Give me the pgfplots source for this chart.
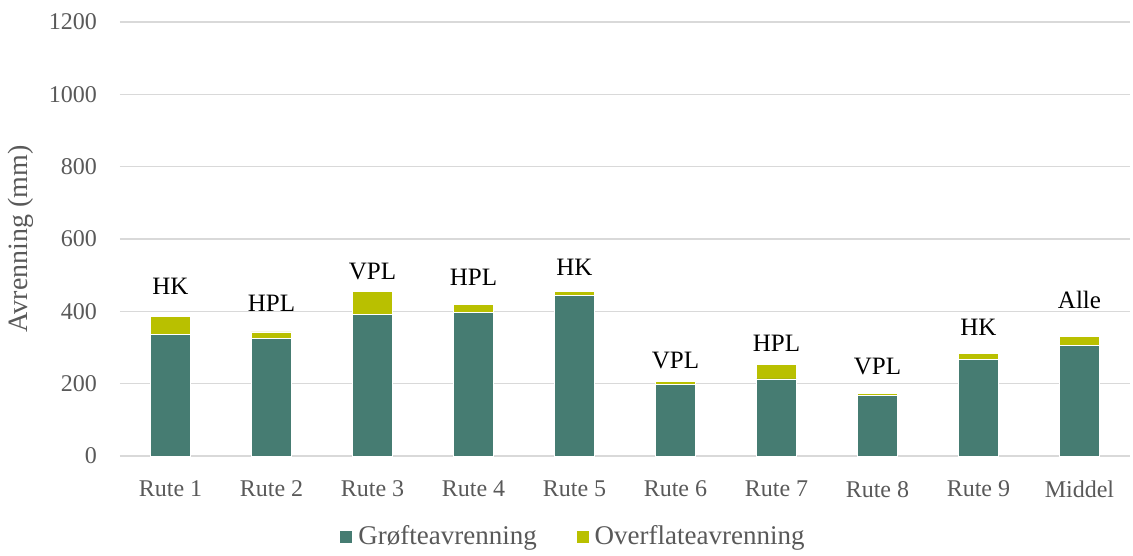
\documentclass[border=0pt]{standalone}
\usepackage{fontspec}
\setmainfont{Liberation Serif}
\usepackage{pgfplots}
\pgfplotsset{compat=1.18}
\definecolor{groft}{RGB}{70,124,114}
\definecolor{overfl}{RGB}{185,192,0}
\definecolor{gridc}{RGB}{217,217,217}
\definecolor{txt}{RGB}{89,89,89}
\tikzset{blab/.style={font=\fontsize{12.5}{14}\selectfont, anchor=center, inner sep=0pt}}
\begin{document}
\begin{tikzpicture}
\begin{axis}[
  scale only axis,
  width=505pt, height=217pt,
  ybar stacked, bar width=20pt,
  xmin=-0.5, xmax=9.5,
  ymin=0, ymax=1200,
  ytick={0,200,...,1200},
  xtick={0,...,9},
  xticklabels={Rute 1,Rute 2,Rute 3,Rute 4,Rute 5,Rute 6,Rute 7,Rute 8,Rute 9,Middel},
  major tick length=0pt,
  axis line style={draw=none},
  ymajorgrids, grid style={draw=gridc, line width=0.8pt},
  tick label style={font=\fontsize{12}{14}\selectfont, text=txt},
  /pgf/number format/assume math mode=true,
  /pgf/number format/set thousands separator={},
  scaled y ticks=false,
  yticklabel style={xshift=-8pt},
  xticklabel style={yshift=-9pt},
  ylabel={Avrenning (mm)},
  every axis y label/.style={at={(axis description cs:-0.098,0.5)}, rotate=90, anchor=center,
     font=\fontsize{14}{16}\selectfont, text=txt},
  legend columns=2,
  legend style={draw=none, at={(0.45,-0.1866)}, anchor=center, font=\fontsize{13.5}{15}\selectfont, text=txt,
    /tikz/every even column/.append style={column sep=18pt},
    /tikz/every odd column/.append style={column sep=1pt}},
  legend image code/.code={\draw[#1, draw=none] (0pt,-3pt) rectangle (6pt,3pt);},
  clip=false,
]
\addplot[fill=groft, draw=white, line width=0.4pt] coordinates {
(0,337) (1,324) (2,391) (3,398) (4,443) (5,198) (6,213) (7,167) (8,267) (9,305)};
\addlegendentry{Grøfteavrenning}
\addplot[fill=overfl, draw=white, line width=0.4pt] coordinates {
(0,50) (1,19) (2,64) (3,22) (4,13) (5,8) (6,39) (7,7) (8,17) (9,26)};
\addlegendentry{Overflateavrenning}
\node[blab] at (axis cs:0,470) {HK};
\node[blab] at (axis cs:1,423) {HPL};
\node[blab] at (axis cs:2,511) {VPL};
\node[blab] at (axis cs:3,495) {HPL};
\node[blab] at (axis cs:4,522) {HK};
\node[blab] at (axis cs:5,265) {VPL};
\node[blab] at (axis cs:6,312) {HPL};
\node[blab] at (axis cs:7,248) {VPL};
\node[blab] at (axis cs:8,357) {HK};
\node[blab] at (axis cs:9,431) {Alle};
\path[draw=none] (axis description cs:-0.1188,-0.2166) rectangle (axis description cs:1.003,1.0507);
\end{axis}
\end{tikzpicture}
\end{document}
